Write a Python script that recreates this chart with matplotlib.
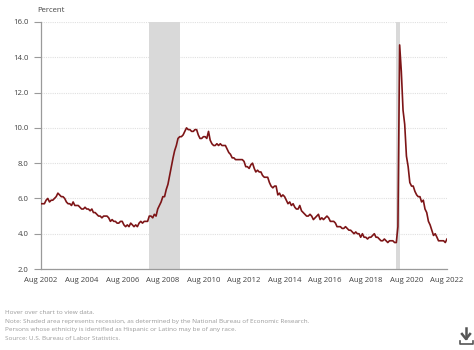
import matplotlib
matplotlib.use("Agg")
import matplotlib.pyplot as plt
import numpy as np
import pandas as pd
from matplotlib.lines import Line2D

plt.rcParams['font.family'] = ['Open Sans', 'DejaVu Sans']

# Monthly unemployment rate, Aug 2002 - Aug 2022 (percent)
rate_2002 = [5.7, 5.7, 5.7, 5.9, 6.0]
rate_2003 = [5.8, 5.9, 5.9, 6.0, 6.1, 6.3, 6.2, 6.1, 6.1, 6.0, 5.8, 5.7]
rate_2004 = [5.7, 5.6, 5.8, 5.6, 5.6, 5.6, 5.5, 5.4, 5.4, 5.5, 5.4, 5.4]
rate_2005 = [5.3, 5.4, 5.2, 5.2, 5.1, 5.0, 5.0, 4.9, 5.0, 5.0, 5.0, 4.9]
rate_2006 = [4.7, 4.8, 4.7, 4.7, 4.6, 4.6, 4.7, 4.7, 4.5, 4.4, 4.5, 4.4]
rate_2007 = [4.6, 4.5, 4.4, 4.5, 4.4, 4.6, 4.7, 4.6, 4.7, 4.7, 4.7, 5.0]
rate_2008 = [5.0, 4.9, 5.1, 5.0, 5.4, 5.6, 5.8, 6.1, 6.1, 6.5, 6.8, 7.3]
rate_2009 = [7.8, 8.3, 8.7, 9.0, 9.4, 9.5, 9.5, 9.6, 9.8, 10.0, 9.9, 9.9]
rate_2010 = [9.8, 9.8, 9.9, 9.9, 9.6, 9.4, 9.4, 9.5, 9.5, 9.4, 9.8, 9.3]
rate_2011 = [9.1, 9.0, 9.0, 9.1, 9.0, 9.1, 9.0, 9.0, 9.0, 8.8, 8.6, 8.5]
rate_2012 = [8.3, 8.3, 8.2, 8.2, 8.2, 8.2, 8.2, 8.1, 7.8, 7.8, 7.7, 7.9]
rate_2013 = [8.0, 7.7, 7.5, 7.6, 7.5, 7.5, 7.3, 7.2, 7.2, 7.2, 6.9, 6.7]
rate_2014 = [6.6, 6.7, 6.7, 6.2, 6.3, 6.1, 6.2, 6.1, 5.9, 5.7, 5.8, 5.6]
rate_2015 = [5.7, 5.5, 5.4, 5.4, 5.6, 5.3, 5.2, 5.1, 5.0, 5.0, 5.1, 5.0]
rate_2016 = [4.8, 4.9, 5.0, 5.1, 4.8, 4.9, 4.8, 4.9, 5.0, 4.9, 4.7, 4.7]
rate_2017 = [4.7, 4.6, 4.4, 4.4, 4.4, 4.3, 4.3, 4.4, 4.3, 4.2, 4.2, 4.1]
rate_2018 = [4.0, 4.1, 4.0, 4.0, 3.8, 4.0, 3.8, 3.8, 3.7, 3.8, 3.8, 3.9]
rate_2019 = [4.0, 3.8, 3.8, 3.7, 3.6, 3.6, 3.7, 3.6, 3.5, 3.6, 3.6, 3.6]
rate_2020 = [3.5, 3.5, 4.4, 14.7, 13.2, 11.0, 10.2, 8.4, 7.8, 6.9, 6.7, 6.7]
rate_2021 = [6.4, 6.2, 6.1, 6.1, 5.8, 5.9, 5.4, 5.2, 4.7, 4.5, 4.2, 3.9]
rate_2022 = [4.0, 3.8, 3.6, 3.6, 3.6, 3.6, 3.5, 3.7]

rates = (rate_2002 + rate_2003 + rate_2004 + rate_2005 + rate_2006 + rate_2007
         + rate_2008 + rate_2009 + rate_2010 + rate_2011 + rate_2012 + rate_2013
         + rate_2014 + rate_2015 + rate_2016 + rate_2017 + rate_2018 + rate_2019
         + rate_2020 + rate_2021 + rate_2022)
months = pd.date_range("2002-08-01", periods=len(rates), freq="MS")

# NBER recessions (start, end)
recessions = [("2007-12-01", "2009-06-01"), ("2020-02-01", "2020-04-01")]

y_ticks = [2.0, 4.0, 6.0, 8.0, 10.0, 12.0, 14.0, 16.0]
x_tick_years = [2002, 2004, 2006, 2008, 2010, 2012, 2014, 2016, 2018, 2020, 2022]

notes = [
    "Hover over chart to view data.",
    "Note: Shaded area represents recession, as determined by the National Bureau of Economic Research.",
    "Persons whose ethnicity is identified as Hispanic or Latino may be of any race.",
    "Source: U.S. Bureau of Labor Statistics.",
]

W, H = 474, 350
fig = plt.figure(figsize=(W / 100, H / 100), dpi=100)
ax = fig.add_axes([41 / W, 1 - 269 / H, (447 - 41) / W, (269 - 22) / H])

for start, end in recessions:
    ax.axvspan(pd.Timestamp(start), pd.Timestamp(end), color="#d9d9d9", lw=0, zorder=1)

ax.plot(months, rates, color="#7d1517", lw=1.2, zorder=3)

ax.set_ylim(2.0, 16.0)
ax.set_xlim(pd.Timestamp("2002-08-01"), pd.Timestamp("2022-08-01"))
ax.set_yticks(y_ticks)
ax.set_yticklabels([f"{v:.1f}" for v in y_ticks])
ax.set_xticks([pd.Timestamp(f"{y}-08-01") for y in x_tick_years])
ax.set_xticklabels([f"Aug {y}" for y in x_tick_years])

ax.grid(axis="y", color="#e0e0e0", lw=0.8, ls=(0, (1, 1)), zorder=0)
ax.set_axisbelow(True)
for side in ("top", "right"):
    ax.spines[side].set_visible(False)
for side in ("left", "bottom"):
    ax.spines[side].set_color("#9a9a9a")
    ax.spines[side].set_linewidth(0.9)

ax.tick_params(axis="y", length=5, width=0.8, color="#9a9a9a", labelsize=5.6,
               labelcolor="#444444", pad=4)
ax.tick_params(axis="x", length=0, labelsize=5.6, labelcolor="#444444", pad=6)

fig.text(37 / W, 1 - 10 / H, "Percent", fontsize=5.6, color="#444444",
         ha="left", va="center")

for i, line in enumerate(notes):
    fig.text(5 / W, 1 - (312.5 + i * 8.7) / H, line, fontsize=4.55, color="#9a9a9a",
             ha="left", va="center")

# download icon
icon_color = "#555555"
fig.add_artist(Line2D([466 / W, 466 / W], [1 - 328 / H, 1 - 338 / H],
                      transform=fig.transFigure, color=icon_color, lw=1.8))
fig.add_artist(Line2D([462 / W, 466 / W, 470 / W], [1 - 334 / H, 1 - 339 / H, 1 - 334 / H],
                      transform=fig.transFigure, color=icon_color, lw=1.8))
fig.add_artist(Line2D([459.5 / W, 459.5 / W, 472.5 / W, 472.5 / W],
                      [1 - 341 / H, 1 - 344 / H, 1 - 344 / H, 1 - 341 / H],
                      transform=fig.transFigure, color=icon_color, lw=1.2))

fig.savefig("out.png", dpi=100)
